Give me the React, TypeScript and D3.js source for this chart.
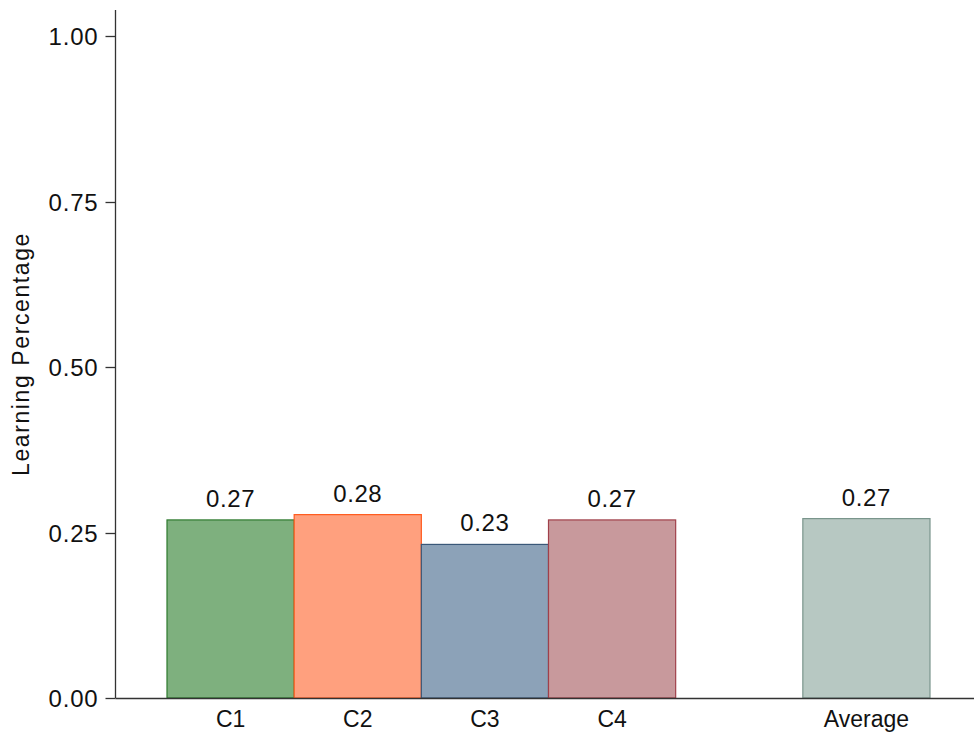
import React, { useEffect, useRef } from "react";
import * as d3 from "d3";

const categories = ["C1", "C2", "C3", "C4", "", "Average"];
const barNames = ["C1", "C2", "C3", "C4", "Average"];
const values = [0.269, 0.277, 0.232, 0.269, 0.271];
const valueLabels = ["0.27", "0.28", "0.23", "0.27", "0.27"];
const fills = ["#7EB07E", "#FFA07E", "#8CA2B8", "#C8999C", "#B7C8C2"];
const strokes = ["#2E7A2E", "#FF5A1E", "#3A5878", "#A0404A", "#7A958C"];
const yTicks = [0, 0.25, 0.5, 0.75, 1.0];

const WIDTH = 974;
const HEIGHT = 735;
const FONT = "'Liberation Sans', Arial, sans-serif";

export default function App() {
  const ref = useRef<SVGSVGElement | null>(null);

  useEffect(() => {
    const svg = d3.select(ref.current);
    svg.selectAll("*").remove();

    const axisX = 115.5;
    const y = d3.scaleLinear().domain([0, 1]).range([698, 36]);
    const x = d3.scaleBand().domain(categories).range([167, 930]).padding(0);

    // bars
    svg
      .selectAll(".bar")
      .data(barNames)
      .enter()
      .append("rect")
      .attr("x", (d) => x(d) ?? 0)
      .attr("y", (d, i) => y(values[i]))
      .attr("width", x.bandwidth())
      .attr("height", (d, i) => y(0) - y(values[i]))
      .attr("fill", (d, i) => fills[i])
      .attr("stroke", (d, i) => strokes[i])
      .attr("stroke-width", 1.2);

    // value labels
    svg
      .selectAll(".vlabel")
      .data(barNames)
      .enter()
      .append("text")
      .attr("x", (d) => (x(d) ?? 0) + x.bandwidth() / 2)
      .attr("y", (d, i) => y(values[i]) - 13)
      .attr("text-anchor", "middle")
      .style("font-family", FONT)
      .style("font-size", "24px")
      .style("letter-spacing", "0.6px")
      .attr("fill", "#111")
      .text((d, i) => valueLabels[i]);

    // y axis
    svg
      .append("line")
      .attr("x1", axisX)
      .attr("x2", axisX)
      .attr("y1", 10)
      .attr("y2", y(0))
      .attr("stroke", "#333")
      .attr("stroke-width", 1.3);

    yTicks.forEach((t) => {
      const ty = Math.round(y(t)) + 0.5;
      svg
        .append("line")
        .attr("x1", axisX - 10)
        .attr("x2", axisX)
        .attr("y1", ty)
        .attr("y2", ty)
        .attr("stroke", "#333")
        .attr("stroke-width", 1.3);
      svg
        .append("text")
        .attr("x", axisX - 17)
        .attr("y", ty)
        .attr("dy", "0.35em")
        .attr("text-anchor", "end")
        .style("font-family", FONT)
        .style("font-size", "24px")
        .style("letter-spacing", "0.8px")
        .attr("fill", "#111")
        .text(t.toFixed(2));
    });

    // x axis
    svg
      .append("line")
      .attr("x1", axisX)
      .attr("x2", WIDTH)
      .attr("y1", y(0) + 0.5)
      .attr("y2", y(0) + 0.5)
      .attr("stroke", "#333")
      .attr("stroke-width", 1.3);

    barNames.forEach((d) => {
      svg
        .append("text")
        .attr("x", (x(d) ?? 0) + x.bandwidth() / 2)
        .attr("y", 727)
        .attr("text-anchor", "middle")
        .style("font-family", FONT)
        .style("font-size", "23px")
        .attr("fill", "#111")
        .text(d);
    });

    // y axis title
    svg
      .append("text")
      .attr("transform", `translate(29,${354}) rotate(-90)`)
      .attr("text-anchor", "middle")
      .style("font-family", FONT)
      .style("font-size", "23px")
      .style("letter-spacing", "1.6px")
      .attr("fill", "#111")
      .text("Learning Percentage");
  }, []);

  return (
    <svg
      ref={ref}
      width={WIDTH}
      height={HEIGHT}
      style={{ position: "absolute", left: 0, top: 0, background: "#fff" }}
    />
  );
}
